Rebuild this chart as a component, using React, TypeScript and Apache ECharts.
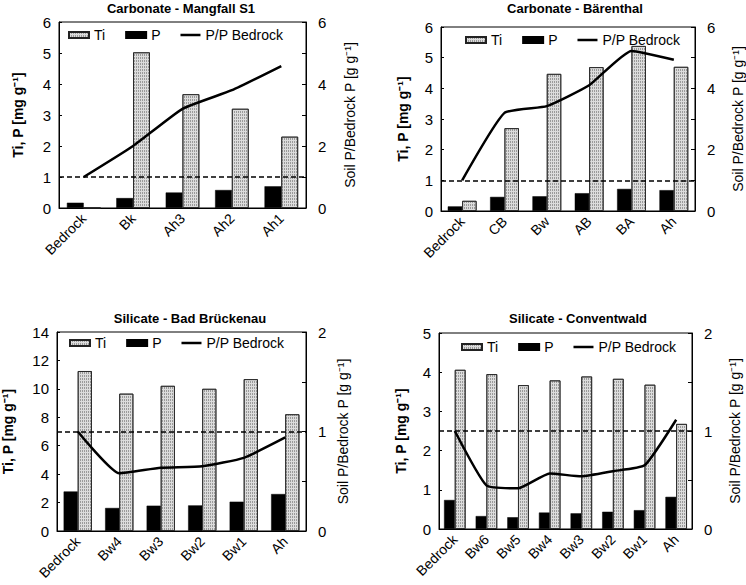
import React, { useEffect, useRef } from 'react';
import * as echarts from 'echarts';

// ---- Data ----
const titles = ['Carbonate - Mangfall S1', 'Carbonate - Bärenthal', 'Silicate - Bad Brückenau', 'Silicate - Conventwald'];

const catsMangfall = ['Bedrock', 'Bk', 'Ah3', 'Ah2', 'Ah1'];
const tiMangfall = [0, 5.02, 3.67, 3.2, 2.3];
const pMangfall = [0.17, 0.32, 0.5, 0.58, 0.7];
const ratioMangfall = [1.0, 2.0, 3.2, 3.8, 4.58];

const catsBaerenthal = ['Bedrock', 'CB', 'Bw', 'AB', 'BA', 'Ah'];
const tiBaerenthal = [0.33, 2.7, 4.47, 4.69, 5.38, 4.7];
const pBaerenthal = [0.15, 0.46, 0.48, 0.58, 0.72, 0.68];
const ratioBaerenthal = [1.0, 3.2, 3.42, 4.1, 5.22, 4.93];

const catsBrueckenau = ['Bedrock', 'Bw4', 'Bw3', 'Bw2', 'Bw1', 'Ah'];
const tiBrueckenau = [11.25, 9.66, 10.21, 10.0, 10.68, 8.21];
const pBrueckenau = [2.78, 1.62, 1.78, 1.8, 2.06, 2.6];
const ratioBrueckenau = [1.0, 0.58, 0.635, 0.65, 0.735, 0.94];

const catsConventwald = ['Bedrock', 'Bw6', 'Bw5', 'Bw4', 'Bw3', 'Bw2', 'Bw1', 'Ah'];
const tiConventwald = [4.06, 3.95, 3.67, 3.79, 3.89, 3.83, 3.68, 2.68];
const pConventwald = [0.74, 0.33, 0.3, 0.42, 0.4, 0.44, 0.48, 0.82];
const ratioConventwald = [1.0, 0.445, 0.415, 0.567, 0.537, 0.59, 0.65, 1.115];

// left axis: max, interval ; right axis: max, interval, label step
const leftMax = [6, 6, 14, 5];
const leftInterval = [1, 1, 2, 1];
const rightMax = [6, 6, 2, 2];
const rightInterval = [1, 1, 0.5, 0.5];
const rightLabelStep = [2, 2, 1, 1];
const bedrockLevel = 1;

const leftName = 'Ti, P [mg g⁻¹]';
const rightName = 'Soil P/Bedrock P [g g⁻¹]';
const seriesNames = ['Ti', 'P', 'P/P Bedrock'];

const panelData = [
  { cats: catsMangfall, ti: tiMangfall, p: pMangfall, ratio: ratioMangfall },
  { cats: catsBaerenthal, ti: tiBaerenthal, p: pBaerenthal, ratio: ratioBaerenthal },
  { cats: catsBrueckenau, ti: tiBrueckenau, p: pBrueckenau, ratio: ratioBrueckenau },
  { cats: catsConventwald, ti: tiConventwald, p: pConventwald, ratio: ratioConventwald },
];

// ---- Layout ----
const grids = [
  { left: 59, top: 22, width: 247, height: 186 },
  { left: 441, top: 27, width: 254, height: 184 },
  { left: 57, top: 332, width: 249, height: 199 },
  { left: 439, top: 333, width: 253, height: 196 },
];
const titlePos = [
  [181, 8],
  [575, 8],
  [190, 318],
  [578, 318],
];
const legendPos = [
  [68, 28],
  [465, 33],
  [69, 336],
  [461, 340],
];
const leftNameGap = [34, 31, 42, 31];
const rightNameGap = [37, 36, 30, 36];

const FONT = 'Liberation Sans, Arial, Helvetica, sans-serif';

function buildOption() {
  const xAxis: any[] = [];
  const yAxis: any[] = [];
  const series: any[] = [];
  const legend: any[] = [];
  const graphic: any[] = [];

  panelData.forEach((d, i) => {
    xAxis.push({
      type: 'category',
      gridIndex: i,
      data: d.cats,
      boundaryGap: true,
      axisLine: { lineStyle: { color: '#000', width: 1 } },
      axisTick: { show: false },
      axisLabel: { rotate: 45, margin: 8, color: '#000', fontSize: 14, fontFamily: FONT, interval: 0 },
    });
    yAxis.push({
      type: 'value',
      gridIndex: i,
      min: 0,
      max: leftMax[i],
      interval: leftInterval[i],
      position: 'left',
      name: leftName,
      nameLocation: 'middle',
      nameRotate: 90,
      nameGap: leftNameGap[i],
      nameTextStyle: { fontWeight: 'bold', fontSize: 14, color: '#000', fontFamily: FONT },
      axisLine: { show: true, lineStyle: { color: '#000', width: 1 } },
      axisTick: { show: true, inside: true, length: 3, lineStyle: { color: '#000' } },
      axisLabel: { color: '#000', fontSize: 15, fontFamily: FONT, margin: 8 },
      splitLine: { show: false },
    });
    const step = rightLabelStep[i];
    yAxis.push({
      type: 'value',
      gridIndex: i,
      min: 0,
      max: rightMax[i],
      interval: rightInterval[i],
      position: 'right',
      name: rightName,
      nameLocation: 'middle',
      nameRotate: 90,
      nameGap: rightNameGap[i],
      nameTextStyle: { fontSize: 14, color: '#000', fontFamily: FONT },
      axisLine: { show: true, lineStyle: { color: '#000', width: 1 } },
      axisTick: { show: true, inside: true, length: 4, lineStyle: { color: '#000' } },
      axisLabel: {
        color: '#000',
        fontSize: 15,
        fontFamily: FONT,
        margin: 12,
        formatter: (v: number) => (Math.abs(v / step - Math.round(v / step)) < 1e-6 ? String(v) : ''),
      },
      splitLine: { show: false },
    });

    series.push({
      name: 'P',
      type: 'bar',
      xAxisIndex: i,
      yAxisIndex: i * 2,
      data: d.p,
      barWidth: '34%',
      barGap: '0%',
      itemStyle: { color: '#000', borderColor: '#000', borderWidth: 0.5 },
    });
    series.push({
      name: 'Ti',
      type: 'bar',
      xAxisIndex: i,
      yAxisIndex: i * 2,
      data: d.ti,
      barWidth: '34%',
      barGap: '0%',
      itemStyle: {
        color: '#dcdcdc',
        borderColor: '#222',
        borderWidth: 0.8,
        decal: {
          symbol: 'rect',
          symbolSize: 1,
          color: 'rgba(110,110,110,0.6)',
          dashArrayX: [1, 1],
          dashArrayY: [2, 1],
          rotation: 0,
        },
      },
    });
    series.push({
      name: 'P/P Bedrock',
      type: 'line',
      xAxisIndex: i,
      yAxisIndex: i * 2 + 1,
      data: d.ratio,
      symbol: 'none',
      smooth: 0.15,
      lineStyle: { color: '#000', width: 2.5 },
      itemStyle: { color: '#000' },
      z: 5,
      markLine: {
        silent: true,
        symbol: 'none',
        label: { show: false },
        lineStyle: { color: '#000', type: [5, 3], width: 1.5 },
        data: [{ yAxis: bedrockLevel }],
      },
    });

    legend.push({
      left: legendPos[i][0],
      top: legendPos[i][1],
      orient: 'horizontal',
      padding: 0,
      itemWidth: 20,
      itemHeight: 6,
      itemGap: 20,
      data: [
        { name: seriesNames[0], icon: 'rect' },
        { name: seriesNames[1], icon: 'rect' },
        { name: seriesNames[2], icon: 'path://M0,0H20V2.5H0Z' },
      ],
      textStyle: { fontSize: 14, color: '#000', fontFamily: FONT },
      selectedMode: false,
    });

    graphic.push({
      type: 'text',
      x: titlePos[i][0],
      y: titlePos[i][1],
      style: {
        text: titles[i],
        fontSize: 13,
        fontWeight: 'bold',
        fontFamily: FONT,
        fill: '#000',
        textAlign: 'center',
        textVerticalAlign: 'middle',
      },
    });
  });

  return {
    animation: false,
    backgroundColor: '#fff',
    grid: grids.map((g) => ({ ...g, show: true, borderColor: '#000', borderWidth: 1, backgroundColor: 'transparent' })),
    xAxis,
    yAxis,
    series,
    legend,
    graphic,
  };
}

export default function App() {
  const ref = useRef<HTMLDivElement>(null);
  useEffect(() => {
    if (!ref.current) return;
    const chart = echarts.init(ref.current, undefined, { renderer: 'svg' });
    chart.setOption(buildOption() as any);
    return () => chart.dispose();
  }, []);
  return (
    <div
      ref={ref}
      style={{ position: 'absolute', left: 0, top: 0, width: 746, height: 585, background: '#fff' }}
    />
  );
}
